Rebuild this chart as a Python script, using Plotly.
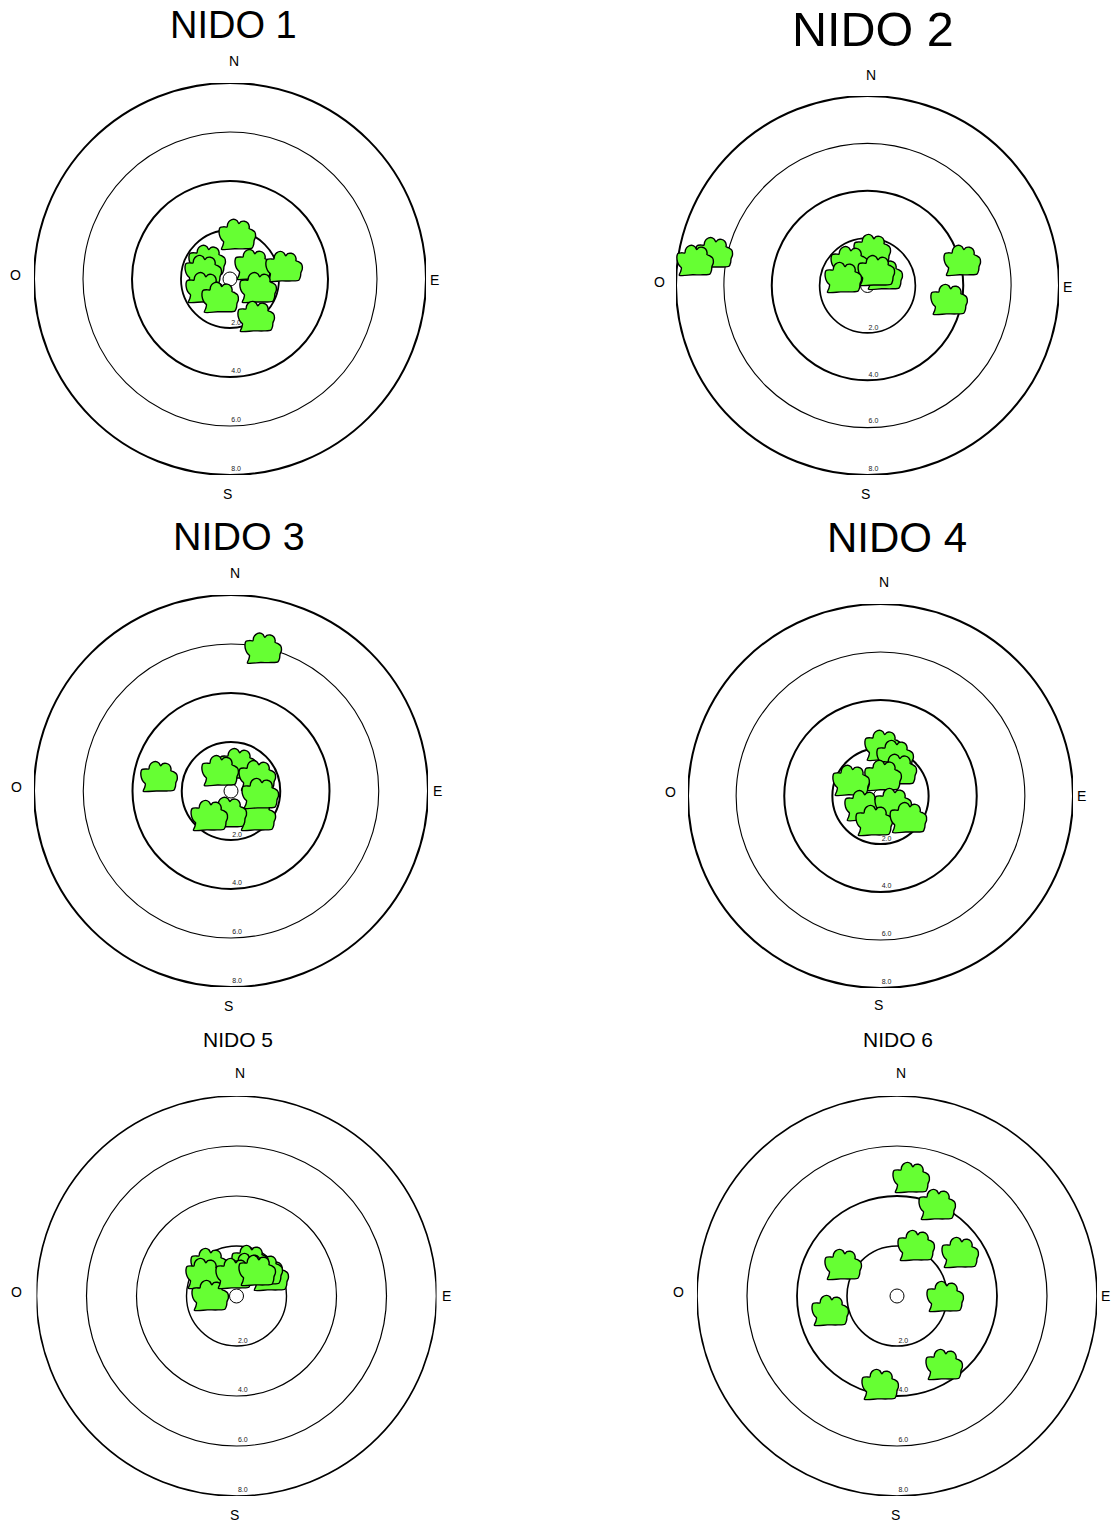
import plotly.graph_objects as go

W, H = 1112, 1523

# ---------- data: shrub positions in metres east / north of each nest ----------
east_1 = [0.29, -0.94, -1.10, -1.06, -0.41, 0.94, 2.20, 1.14, 1.06]
north_1 = [1.84, 0.78, 0.37, -0.33, -0.73, 0.61, 0.53, -0.33, -1.51]
east_2 = [-6.41, -7.21, 3.95, 3.40, 0.69, 0.19, -0.77, 0.36, -1.02]
north_2 = [1.41, 1.08, 1.08, -0.57, 0.49, 1.54, 1.03, 0.65, 0.36]
east_3 = [1.30, -2.93, 0.28, -0.45, 1.06, 1.06, 1.18, -0.12, -0.89]
north_3 = [5.85, 0.61, 1.14, 0.85, 0.65, -0.98, -0.08, -0.85, -0.98]
east_4 = [0.10, 0.60, 0.73, 0.10, -1.23, -0.73, 0.52, -0.27, 1.15]
north_4 = [2.13, 1.71, 1.13, 0.88, 0.67, -0.38, -0.29, -1.00, -0.88]
east_5 = [1.34, 1.10, 0.54, 0.46, -1.10, -1.30, -1.06, -0.10, 0.82]
north_5 = [0.84, 1.08, 1.44, 1.12, 1.32, 0.92, 0.04, 0.92, 1.04]
east_6 = [0.56, 1.60, 0.76, 2.52, -2.16, 1.92, -2.68, 1.88, -0.68]
north_6 = [4.76, 3.68, 2.04, 1.76, 1.28, 0.0, -0.56, -2.72, -3.52]

ring_values = [2.0, 4.0, 6.0, 8.0]
label_inset = [0.18, 0.23, 0.25, 0.25]
titles = ["NIDO 1", "NIDO 2", "NIDO 3", "NIDO 4", "NIDO 5", "NIDO 6"]
compass = ["N", "S", "E", "O"]

# ---------- layout: centre x, centre y, x radius, y radius in pixels ----------
panels = [
    (230, 279, 196, 196, east_1, north_1, (233, 25, 38), [(234, 61), (227, 494), (434, 280), (15, 275)], [1.8, 2.0, 1.1, 2.0]),
    (867.5, 285.5, 191.5, 189.5, east_2, north_2, (873, 29, 48.5), [(871, 75), (865, 494), (1067, 287), (659, 282)], [1.7, 2.0, 1.1, 2.0]),
    (231, 791, 197, 196, east_3, north_3, (239, 536, 39.5), [(235, 573), (228, 1006), (437, 791), (16, 787)], [2.0, 2.0, 1.1, 2.0]),
    (880.5, 796, 192.5, 192, east_4, north_4, (897, 537, 42), [(884, 582), (878, 1005), (1081, 796), (670, 792)], [2.0, 2.0, 1.1, 2.0]),
    (236.5, 1296, 200, 200, east_5, north_5, (238, 1039, 21), [(240, 1073), (234, 1515), (446, 1296), (16, 1292)], [1.4, 1.2, 1.2, 1.6]),
    (897, 1296, 200, 200, east_6, north_6, (898, 1039, 21), [(901, 1073), (895, 1515), (1105, 1296), (678, 1292)], [1.6, 1.8, 1.2, 1.6]),
]

# shrub outline in pixels around its centre (x right, y up)
BUSH_X = [-15.6, -14.2, -13.5, -15.6, -17.4, -18, -17, -13.5, -10.1, -9.4, -7.3, -3.4, 0, 1.8, 3.8, 7.3, 10.7, 12.2, 12, 14.9, 17.7, 18.4, 17, 16.6, 14.9, 8, -2.4, -15.6]
BUSH_Y = [-15.3, -11.5, -7.8, -5.6, -1.9, 3.4, 6.4, 7.1, 7, 10.1, 13.1, 14.6, 13.1, 10.3, 12.3, 12.7, 10.9, 7.1, 5.4, 4.1, 1.9, -3, -6.7, -10.4, -14.2, -14.9, -14.9, -15.3]

FILL = "#66FF33"
fig = go.Figure()
layout = dict(
    width=W, height=H, margin=dict(l=0, r=0, t=0, b=0, pad=0),
    paper_bgcolor="white", plot_bgcolor="rgba(0,0,0,0)", showlegend=False,
    hovermode=False, font=dict(family="Liberation Sans, Arial, sans-serif", color="black"),
)
shapes, annotations = [], []

for i, (cx, cy, rx, ry, east, north, title, letters, widths) in enumerate(panels):
    suf = "" if i == 0 else str(i + 1)
    xa, ya = "x" + suf, "y" + suf
    axis = dict(visible=False, range=[-8, 8], fixedrange=True)
    layout["xaxis" + suf] = dict(axis, domain=[(cx - rx) / W, (cx + rx) / W], anchor=ya)
    layout["yaxis" + suf] = dict(axis, domain=[1 - (cy + ry) / H, 1 - (cy - ry) / H], anchor=xa)
    sx, sy = rx / 8, ry / 8

    for v, lw in zip(ring_values, widths):
        shapes.append(dict(type="circle", xref=xa, yref=ya, x0=-v, x1=v, y0=-v, y1=v,
                           line=dict(color="black", width=lw), fillcolor="rgba(0,0,0,0)", layer="below"))

    fig.add_trace(go.Scatter(
        x=[0.25] * 4, y=[-(v - d) for v, d in zip(ring_values, label_inset)],
        text=[f"{v:.1f}" for v in ring_values], mode="text", xaxis=xa, yaxis=ya,
        textfont=dict(size=7, color="#222222"),
    ))
    fig.add_trace(go.Scatter(
        x=[0], y=[0], mode="markers", xaxis=xa, yaxis=ya,
        marker=dict(size=14, color="white", line=dict(color="black", width=1)),
    ))
    for ex, ny in zip(east, north):
        fig.add_trace(go.Scatter(
            x=[ex + p / sx for p in BUSH_X], y=[ny + p / sy for p in BUSH_Y],
            mode="lines", fill="toself", fillcolor=FILL, xaxis=xa, yaxis=ya,
            line=dict(color="black", width=1.4, shape="spline", smoothing=0.7),
        ))

    tx, ty, ts = title
    annotations.append(dict(text=titles[i], xref="paper", yref="paper", x=tx / W, y=1 - ty / H,
                            showarrow=False, font=dict(size=ts, color="black"), xanchor="center", yanchor="middle"))
    for name, (lx, ly) in zip(compass, letters):
        annotations.append(dict(text=name, xref="paper", yref="paper", x=lx / W, y=1 - ly / H,
                                showarrow=False, font=dict(size=14, color="black"), xanchor="center", yanchor="middle"))

layout["shapes"] = shapes
layout["annotations"] = annotations
fig.update_layout(**layout)
fig.write_html("out.html", post_script="document.body.style.margin='0';", config={"displayModeBar": False})
